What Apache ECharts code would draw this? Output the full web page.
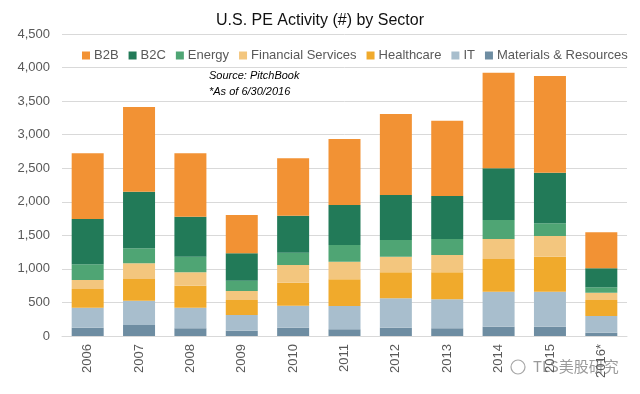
<!DOCTYPE html>
<html><head><meta charset="utf-8">
<script src="https://cdn.jsdelivr.net/npm/echarts@6/dist/echarts.min.js"></script>
<style>html,body{margin:0;padding:0;background:#fff}#c{width:640px;height:394px}</style>
</head><body><div id="c"></div>
<script>
const years = ['2006','2007','2008','2009','2010','2011','2012','2013','2014','2015','2016*'];
const materials  = [124,164,114, 80,124,100,124,114,139,139, 50];
const it         = [298,362,308,233,328,347,438,433,521,521,248];
const healthcare = [278,323,328,223,342,398,387,402,487,522,238];
const financial  = [134,234,199,135,264,262,233,258,298,308,110];
const energy     = [234,224,233,153,183,249,248,238,283,189, 80];
const b2c        = [675,843,596,408,552,596,671,641,771,754,283];
const b2b        = [979,1262,944,571,854,983,1207,1122,1424,1441,536];
const yTicks = [0,500,1000,1500,2000,2500,3000,3500,4000,4500];

const font = 'Liberation Sans, sans-serif';
const seriesDefs = [
  ['Materials & Resources', materials, '#6E8DA2'],
  ['IT', it, '#A8BECD'],
  ['Healthcare', healthcare, '#F0AA2C'],
  ['Financial Services', financial, '#F3C67E'],
  ['Energy', energy, '#4FA574'],
  ['B2C', b2c, '#227A58'],
  ['B2B', b2b, '#F29234']
];
const chart = echarts.init(document.getElementById('c'));
chart.setOption({
  animation:false,
  backgroundColor:'#fff',
  title:{text:'U.S. PE Activity (#) by Sector',left:'center',top:8,
    textStyle:{fontFamily:font,fontSize:16,fontWeight:'normal',color:'#111'}},
  legend:{data:['B2B','B2C','Energy','Financial Services','Healthcare','IT','Materials & Resources'],
    left:77,top:44,width:580,itemWidth:8,itemHeight:8,itemGap:10,icon:'rect',
    textStyle:{fontFamily:font,fontSize:13,color:'#595959',padding:[0,0,0,-1]}},
  grid:{left:62,right:13,top:34,bottom:58},
  xAxis:{type:'category',data:years,
    axisLine:{lineStyle:{color:'#D9D9D9'}},axisTick:{show:false},
    axisLabel:{rotate:90,fontFamily:font,fontSize:13,color:'#595959',margin:8}},
  yAxis:{type:'value',min:0,max:4500,interval:500,
    axisLine:{show:false},axisTick:{show:false},
    splitLine:{lineStyle:{color:'#D9D9D9'}},
    axisLabel:{fontFamily:font,fontSize:13,color:'#595959',margin:12,
      formatter:v=>yTicks.includes(v)?v.toLocaleString('en-US'):''}},
  graphic:[
    {type:'text',left:209,top:70,style:{text:'Source: PitchBook',font:'italic 11px '+font,fill:'#000'}},
    {type:'text',left:209,top:86,style:{text:'*As of 6/30/2016',font:'italic 11px '+font,fill:'#000'}},
    {type:'circle',shape:{cx:518,cy:367,r:7},style:{fill:'none',stroke:'rgba(130,130,130,0.7)',lineWidth:1.2}},
    {type:'text',left:533,top:359,style:{text:'TLS美股研究',font:'15px Noto Sans CJK SC',fill:'rgba(120,120,120,0.75)'}}
  ],
  series:seriesDefs.map(([n,d,c])=>({name:n,type:'bar',stack:'s',data:d,barWidth:32,
    itemStyle:{color:c}}))
});
</script></body></html>
